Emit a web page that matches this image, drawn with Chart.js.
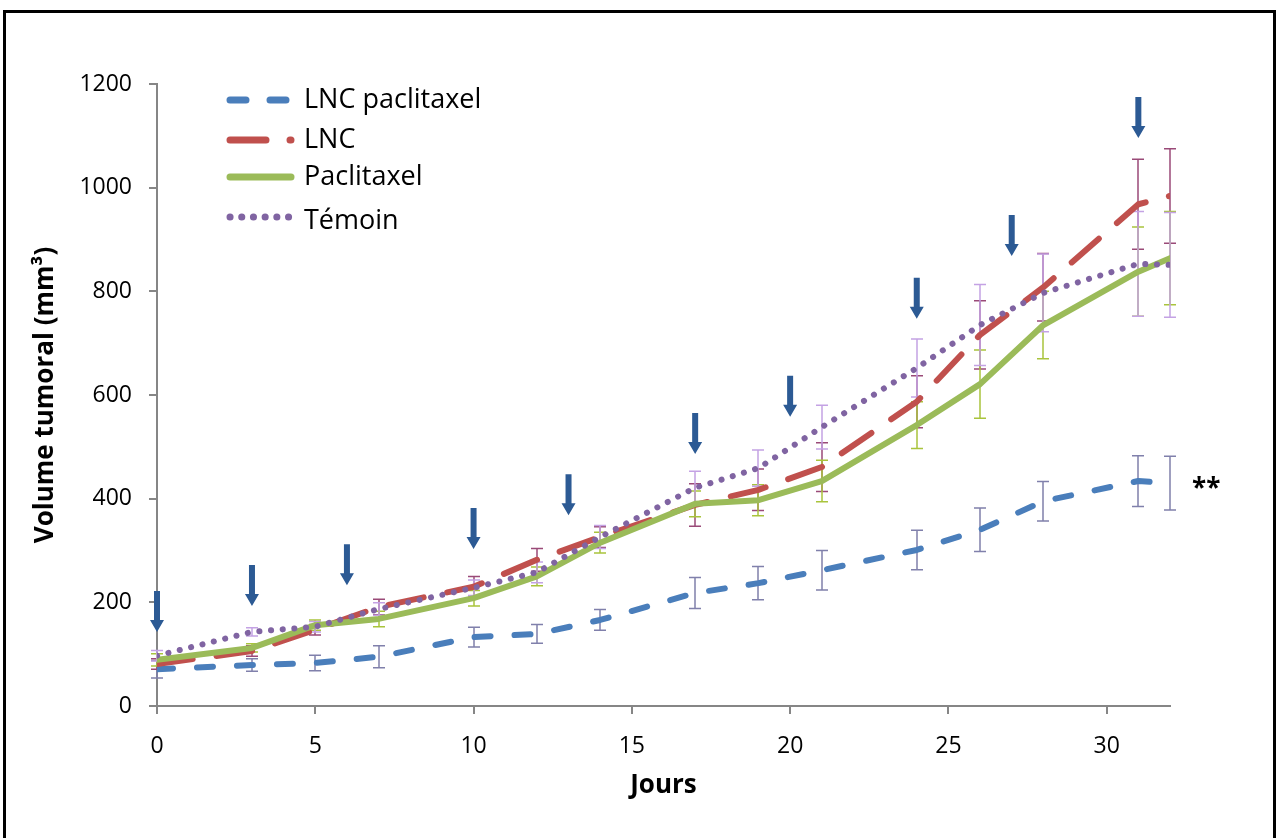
<!DOCTYPE html>
<html>
<head>
<meta charset="utf-8">
<script src="https://cdn.jsdelivr.net/npm/chart.js@4.4.0/dist/chart.umd.min.js"></script>
<style>
    html, body { margin: 0; padding: 0; background: #fff; }
    #wrap { position: absolute; left: 0; top: 0; width: 1278px; height: 838px; overflow: hidden; }
    #cadre { position: absolute; left: 3px; top: 10px; width: 1273px; height: 900px; border: 3px solid #000; box-sizing: border-box; }
    canvas { position: absolute; left: 0; top: 0; }
</style>
</head>
<body>
<div id="wrap">
    <div id="cadre"></div>
    <canvas id="grafica" width="1278" height="838"></canvas>
</div>
<script>
// Datos
const jours = [0, 3, 5, 7, 10, 12, 14, 17, 19, 21, 24, 26, 28, 31, 32];

const lncPaclitaxel = [71, 79, 83, 95, 133, 139, 166, 218, 237, 262, 301, 340, 395, 434, 430];
const lnc = [81, 106, 147, 191, 230, 282, 326, 388, 417, 461, 587, 716, 808, 968, 984];
const paclitaxel = [89, 112, 156, 168, 208, 250, 315, 390, 397, 434, 542, 621, 735, 838, 864];
const temoin = [97, 143, 153, 187, 228, 258, 326, 421, 459, 538, 652, 735, 797, 853, 851];

const errLncPaclitaxel = [17, 12, 15, 21, 19, 18, 20, 30, 32, 38, 38, 42, 38, 49, 52];
const errLnc = [10, 10, 10, 15, 20, 22, 20, 41, 40, 47, 50, 66, 65, 87, 91];
const errPaclitaxel = [12, 8, 10, 15, 15, 18, 20, 25, 30, 40, 45, 66, 65, 86, 90];
const errTemoin = [10, 8, 10, 12, 15, 20, 22, 32, 35, 42, 56, 78, 75, 101, 101];

// Flechas de inyeccion: dia y volumen en la punta
const flechaJours = [0, 3, 6, 10, 13, 17, 20, 24, 27, 31];
const flechaVolumes = [143, 193, 233, 303, 368, 486, 558, 747, 868, 1096];

const etiquetas = ['LNC paclitaxel', 'LNC', 'Paclitaxel', 'Témoin'];
const signif = '**';

const FUENTE = "'Open Sans', 'Liberation Sans', sans-serif";

function puntos(vals) {
    return jours.map((d, i) => ({ x: d, y: vals[i] }));
}

const series = [
    { label: etiquetas[0], vals: lncPaclitaxel, err: errLncPaclitaxel, color: '#4a7ebb', errColor: '#8080ab', dash: [16, 24], width: 6, order: 3 },
    { label: etiquetas[1], vals: lnc, err: errLnc, color: '#c0504d', errColor: '#9a4a78', dash: [36, 24], width: 6, order: 2 },
    { label: etiquetas[2], vals: paclitaxel, err: errPaclitaxel, color: '#9bbb59', errColor: '#a9c43c', dash: [], width: 6, order: 1 },
    { label: etiquetas[3], vals: temoin, err: errTemoin, color: '#8064a2', errColor: '#c4a2e4', dash: [0.1, 11.6], width: 6, order: 0 }
];

// Barras de error, flechas, leyenda y asteriscos
const extras = {
    id: 'extras',
    beforeDatasetsDraw(chart) {
        const { ctx, scales: { x, y } } = chart;
        series.forEach(s => {
            ctx.save();
            ctx.strokeStyle = s.errColor;
            ctx.lineWidth = 1.5;
            jours.forEach((d, i) => {
                const px = Math.round(x.getPixelForValue(d));
                const y1 = y.getPixelForValue(s.vals[i] + s.err[i]);
                const y2 = y.getPixelForValue(s.vals[i] - s.err[i]);
                ctx.beginPath();
                ctx.moveTo(px, y1); ctx.lineTo(px, y2);
                ctx.moveTo(px - 6, y1); ctx.lineTo(px + 6, y1);
                ctx.moveTo(px - 6, y2); ctx.lineTo(px + 6, y2);
                ctx.stroke();
            });
            ctx.restore();
        });
    },
    afterDatasetsDraw(chart) {
        const { ctx, scales: { x, y } } = chart;

        // flechas
        ctx.save();
        ctx.fillStyle = '#2c5a94';
        flechaJours.forEach((d, i) => {
            const px = x.getPixelForValue(d);
            const tip = y.getPixelForValue(flechaVolumes[i]);
            ctx.beginPath();
            ctx.moveTo(px - 3, tip - 41);
            ctx.lineTo(px + 3, tip - 41);
            ctx.lineTo(px + 3, tip - 12);
            ctx.lineTo(px + 7, tip - 12);
            ctx.lineTo(px, tip);
            ctx.lineTo(px - 7, tip - 12);
            ctx.lineTo(px - 3, tip - 12);
            ctx.closePath();
            ctx.fill();
        });
        ctx.restore();

        // asteriscos
        const ult = jours.length - 1;
        ctx.save();
        ctx.fillStyle = '#000';
        ctx.font = 'bold 26px ' + FUENTE;
        ctx.textBaseline = 'middle';
        ctx.fillText(signif, x.getPixelForValue(jours[ult]) + 22, y.getPixelForValue(lncPaclitaxel[ult]) + 6);
        ctx.restore();

        // leyenda
        const filas = [100, 140, 177, 217];
        ctx.save();
        series.forEach((s, i) => {
            const yy = filas[i];
            ctx.strokeStyle = s.color;
            ctx.lineWidth = s.width + 1;
            ctx.lineCap = 'round';
            ctx.setLineDash(s.dash);
            ctx.beginPath();
            ctx.moveTo(230, yy);
            ctx.lineTo(291, yy);
            ctx.stroke();
            ctx.setLineDash([]);
            ctx.fillStyle = '#000';
            ctx.font = '27px ' + FUENTE;
            ctx.textBaseline = 'middle';
            ctx.fillText(s.label, 304, yy + (i === 3 ? 4 : 0));
        });
        ctx.restore();
    }
};

function setupChart() {
    const ctx = document.getElementById('grafica').getContext('2d');
    new Chart(ctx, {
        type: 'line',
        data: {
            datasets: series.map(s => ({
                label: s.label,
                data: puntos(s.vals),
                borderColor: s.color,
                borderWidth: s.width,
                borderDash: s.dash,
                borderCapStyle: 'round',
                borderJoinStyle: 'round',
                pointRadius: 0,
                tension: 0,
                fill: false,
                order: s.order
            }))
        },
        options: {
            responsive: false,
            animation: false,
            layout: { padding: { top: 84, right: 108, left: 0, bottom: 0 } },
            plugins: { legend: { display: false }, tooltip: { enabled: false } },
            scales: {
                x: {
                    type: 'linear',
                    min: 0,
                    max: 32,
                    afterFit: s => { s.height = 132; },
                    afterBuildTicks: s => { s.ticks = s.ticks.filter(t => t.value % 5 === 0); },
                    ticks: { stepSize: 5, color: '#000', font: { family: FUENTE, size: 23 }, padding: 19, maxRotation: 0, callback: v => String(v) },
                    grid: { drawOnChartArea: false, tickLength: 8, color: '#868686', lineWidth: 2 },
                    border: { color: '#868686', width: 2 },
                    title: { display: true, text: 'Jours', color: '#000', font: { family: FUENTE, size: 26, weight: 'bold' }, padding: { bottom: 37 } }
                },
                y: {
                    min: 0,
                    max: 1200,
                    afterFit: s => { s.width = 157; },
                    ticks: { stepSize: 200, color: '#000', font: { family: FUENTE, size: 23 }, padding: 17, callback: v => String(v) },
                    grid: { drawOnChartArea: false, tickLength: 8, color: '#868686', lineWidth: 2 },
                    border: { color: '#868686', width: 2 },
                    title: { display: true, text: 'Volume tumoral (mm³)', color: '#000', font: { family: FUENTE, size: 26, weight: 'bold' }, padding: { top: 30 } }
                }
            }
        },
        plugins: [extras]
    });
}

document.addEventListener('DOMContentLoaded', setupChart);
</script>
</body>
</html>
